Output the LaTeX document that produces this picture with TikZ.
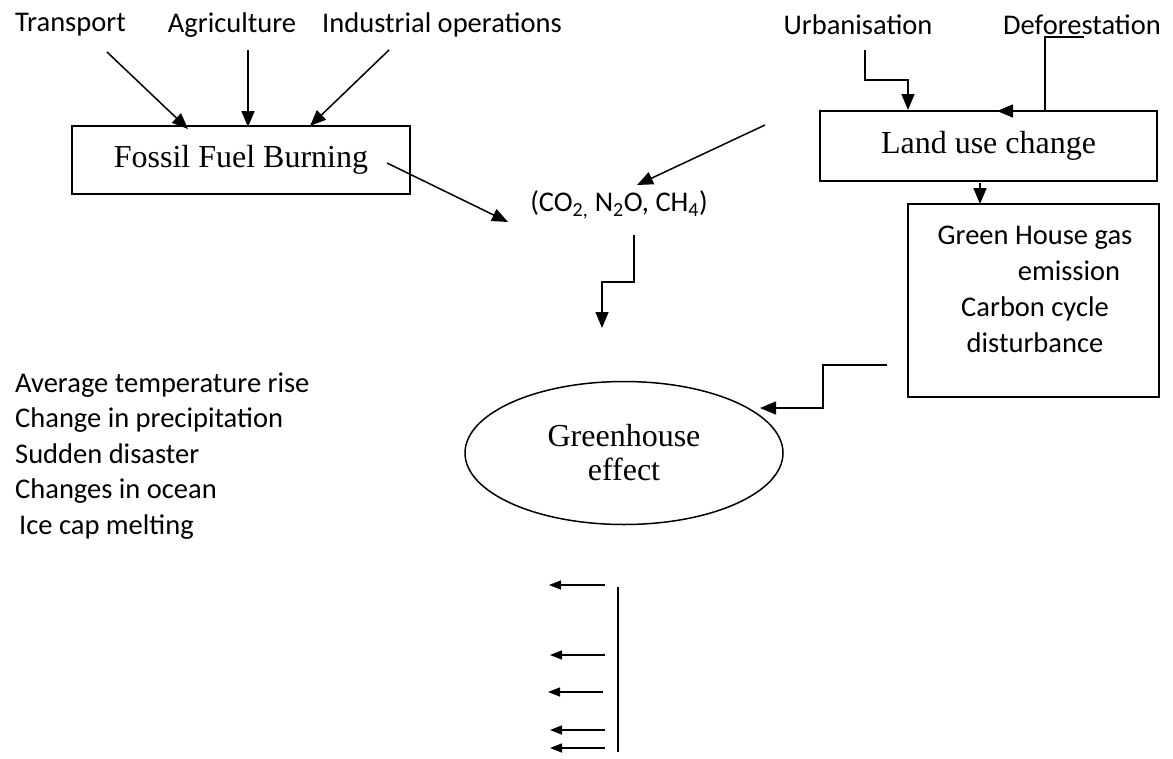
\documentclass[tikz,border=0pt]{standalone}
\usepackage{fontspec}
\setmainfont{Carlito}
\newfontfamily\seriffam{Liberation Serif}
\usetikzlibrary{arrows.meta,shapes.geometric}
\begin{document}
\begin{tikzpicture}[x=1pt,y=-1pt,
  lbl/.style={inner sep=0pt,font=\fontsize{28.5}{35.5}\selectfont},
  serifbox/.style={draw,line width=1.5pt,inner sep=0pt,font=\seriffam\fontsize{32}{34}\selectfont},
  conn/.style={line width=1.5pt,-{Triangle[length=16pt,width=13pt]}},
  smallarr/.style={line width=1.4pt,-{Triangle[length=12pt,width=9pt]}},
  plainline/.style={line width=1.5pt}]
\useasboundingbox (0,0) rectangle (1173,758);
% top labels
\node[lbl] (tr) at (70.5,25) {Transport};
\node[lbl] (ag) at (232,25) {Agriculture};
\node[lbl] (ind) at (442,25) {Industrial operations};
\node[lbl] (urb) at (858,25) {Urbanisation};
\node[lbl] (def) at (1082,25) {Deforestation};
% boxes
\node[serifbox,minimum width=338pt,minimum height=68pt] (fossil) at (241,160) {Fossil Fuel Burning};
\node[serifbox,minimum width=337pt,minimum height=70pt] (land) at (988.5,146) {Land use change};
\node[draw,line width=1.5pt,minimum width=251pt,minimum height=193pt,inner sep=0pt] (ghg) at (1033.5,300.5) {};
\node[lbl,align=center,font=\fontsize{28.5}{36}\selectfont] (ghgt) at (1035,289) {Green House gas\\\hspace*{68pt}emission\\Carbon cycle\\disturbance};
\node[lbl] (co2) at (619,205) {(CO\textsubscript{2,} N\textsubscript{2}O, CH\textsubscript{4})};
\node[serifbox,ellipse,minimum width=318pt,minimum height=143pt,align=center] (ge) at (624,453) {Greenhouse\\effect};
\node[lbl,anchor=west,align=left] (list) at (15,456) {Average temperature rise\\Change in precipitation\\Sudden disaster\\Changes in ocean\\\hspace*{4pt}Ice cap melting};
% coordinates
\coordinate (trs) at (107,52);
\coordinate (tre) at (188,129);
\coordinate (ags) at (248,50);
\coordinate (age) at (248,127);
\coordinate (inds) at (389,50);
\coordinate (inde) at (310,126);
\coordinate (fos) at (387,163);
\coordinate (foe) at (508,222);
\coordinate (rs) at (765,125);
\coordinate (re) at (637,185);
\coordinate (c1) at (634,235);
\coordinate (c2) at (634,282);
\coordinate (c3) at (602,282);
\coordinate (c4) at (602,328);
\coordinate (u1) at (865,50);
\coordinate (u2) at (865,80);
\coordinate (u3) at (908,80);
\coordinate (u4) at (908,110);
\coordinate (d1) at (1084,37);
\coordinate (d2) at (1045,37);
\coordinate (d3) at (1045,111);
\coordinate (d4) at (997,111);
\coordinate (l1) at (980,183);
\coordinate (l2) at (980,204);
\coordinate (g1) at (887,365);
\coordinate (g2) at (823,365);
\coordinate (g3) at (823,408);
\coordinate (g4) at (760,408);
% connectors
\draw[conn] (trs) -- (tre);
\draw[conn] (ags) -- (age);
\draw[conn] (inds) -- (inde);
\draw[conn] (fos) -- (foe);
\draw[conn] (rs) -- (re);
\draw[conn] (c1) -- (c2) -- (c3) -- (c4);
\draw[conn] (u1) -- (u2) -- (u3) -- (u4);
\draw[conn] (d1) -- (d2) -- (d3) -- (d4);
\draw[conn] (l1) -- (l2);
\draw[conn] (g1) -- (g2) -- (g3) -- (g4);
% bottom
\coordinate (v1) at (618,587);
\coordinate (v2) at (618,752);
\draw[plainline] (v1) -- (v2);
\coordinate (a1s) at (605,585); \coordinate (a1e) at (549,585);
\coordinate (a2s) at (605,655); \coordinate (a2e) at (550,655);
\coordinate (a3s) at (603,692); \coordinate (a3e) at (548,692);
\coordinate (a4s) at (605,730); \coordinate (a4e) at (550,730);
\coordinate (a5s) at (605,748); \coordinate (a5e) at (550,748);
\draw[smallarr] (a1s) -- (a1e);
\draw[smallarr] (a2s) -- (a2e);
\draw[smallarr] (a3s) -- (a3e);
\draw[smallarr] (a4s) -- (a4e);
\draw[smallarr] (a5s) -- (a5e);
\end{tikzpicture}
\end{document}
